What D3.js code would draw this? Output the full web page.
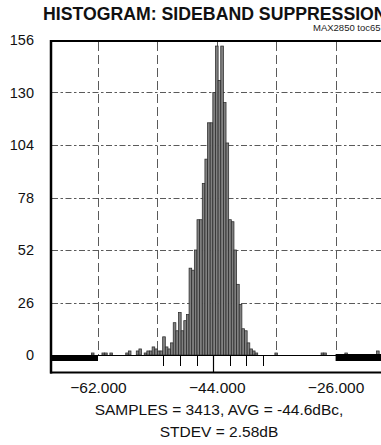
<!DOCTYPE html>
<html><head><meta charset="utf-8">
<script src="https://cdn.jsdelivr.net/npm/d3@7"></script>
<style>body{margin:0;background:#fff}svg{display:block;font-family:"Liberation Sans",Arial,sans-serif}</style>
</head><body><svg id="c" width="381" height="445"></svg>
<script>
// histogram bins (left edge, dBc) and counts
const binLeft = [-63.0,-61.4,-61.0,-60.2,-57.8,-57.4,-56.2,-55.8,-55.0,-54.6,-54.2,-53.8,-53.4,-53.0,-52.6,
  -52.2,-51.8,-51.4,-51.0,-50.6,-50.2,-49.8,-49.4,-49.0,-48.6,-48.2,-47.8,-47.4,-47.0,-46.6,-46.2,-45.8,-45.4,
  -45.0,-44.6,-44.2,-43.8,-43.4,-43.0,-42.6,-42.2,-41.8,-41.4,-41.0,-40.6,-40.2,-39.8,-39.4,-39.0,-38.6,-38.2,
  -35.2,-28.2,-27.8,-24.6,-19.8];
const counts = [1,1,1,1,1,2,2,3,1,2,2,4,3,2,2,
  9,4,3,6,16,12,21,12,17,20,43,42,52,67,67,85,97,115,
  115,130,153,136,153,125,105,67,66,52,35,25,13,12,6,3,2,1,
  1,1,1,1,2];
const binWidth = 0.4;
const yTicks = [0,26,52,78,104,130,156];
const xLabels = [-62,-44,-26];
const xGrid = [-62,-53,-44,-35,-26];
const avgValue = -44.6;
const sigmaTicks = [-52.1,-49.55,-47.0,-42.0,-39.5,-37.0];
const lowBand = [-69.15,-62];
const highBand = [-26,-18];
const title = "HISTOGRAM: SIDEBAND SUPPRESSION";
const tag = "MAX2850 toc65";
const footer = ["SAMPLES = 3413, AVG = -44.6dBc,","STDEV = 2.58dB"];

const svg = d3.select("#c");
const x = d3.scaleLinear().domain([-69.15,-18]).range([50.8,388.4]);
const y = d3.scaleLinear().domain([0,156]).range([355,40]);

// title
svg.append("text").attr("x",43).attr("y",19.5).attr("font-size",17.7).attr("font-weight","bold")
  .attr("fill","#111").text(title);
svg.append("text").attr("x",313).attr("y",31).attr("font-size",9.5).attr("fill","#222").text(tag);

// grid
const grid = svg.append("g").attr("stroke","#5a5a5a").attr("stroke-width",1).attr("fill","none");
grid.selectAll("line.h").data(yTicks.filter(d=>d>0&&d<156)).join("line")
  .attr("x1",52).attr("x2",381).attr("y1",d=>Math.round(y(d))+0.5).attr("y2",d=>Math.round(y(d))+0.5)
  .attr("stroke-dasharray","6,2.5,2.5,2.5");
grid.selectAll("line.v").data(xGrid).join("line")
  .attr("x1",d=>Math.round(x(d))+0.5).attr("x2",d=>Math.round(x(d))+0.5).attr("y1",42).attr("y2",355)
  .attr("stroke-dasharray","9,4");

// bars
svg.append("g").selectAll("rect").data(binLeft).join("rect")
  .attr("x",d=>x(d)).attr("width",d=>x(d+binWidth)-x(d))
  .attr("y",(d,i)=>y(counts[i])).attr("height",(d,i)=>y(0)-y(counts[i]))
  .attr("fill","#808080").attr("stroke","#2a2a2a").attr("stroke-width",0.75);

// baseline & bands
svg.append("line").attr("x1",51).attr("x2",381).attr("y1",355.5).attr("y2",355.5).attr("stroke","#000");
svg.append("rect").attr("x",x(lowBand[0])).attr("width",x(lowBand[1])-x(lowBand[0])).attr("y",355).attr("height",6).attr("fill","#000");
svg.append("rect").attr("x",x(highBand[0])).attr("width",x(highBand[1])-x(highBand[0])).attr("y",354).attr("height",7).attr("fill","#000");

// sigma ticks
svg.append("g").selectAll("line").data(sigmaTicks).join("line")
  .attr("x1",d=>Math.round(x(d))+0.5).attr("x2",d=>Math.round(x(d))+0.5).attr("y1",356).attr("y2",366)
  .attr("stroke","#000");
svg.append("line").attr("x1",Math.round(x(avgValue))+0.5).attr("x2",Math.round(x(avgValue))+0.5)
  .attr("y1",356).attr("y2",372).attr("stroke","#000").attr("stroke-width",1.2);

// frame
const fr = svg.append("g").attr("stroke","#000").attr("fill","none");
fr.append("line").attr("x1",51).attr("x2",51).attr("y1",40).attr("y2",373.5).attr("stroke-width",2.5);
fr.append("line").attr("x1",50).attr("x2",381).attr("y1",41).attr("y2",41).attr("stroke-width",2);
fr.append("line").attr("x1",50).attr("x2",381).attr("y1",372.5).attr("y2",372.5).attr("stroke-width",2);

// axes labels
const ya = svg.append("g").attr("transform","translate(51,0)")
  .call(d3.axisLeft(y).tickValues(yTicks).tickSize(0).tickPadding(17));
ya.select(".domain").remove();
ya.selectAll("text").attr("font-size",14.5).attr("fill","#111").attr("font-family","Liberation Sans, Arial, sans-serif");

const xa = svg.append("g").attr("transform","translate(0,372)")
  .call(d3.axisBottom(x).tickValues(xLabels).tickSize(0).tickPadding(10).tickFormat(d3.format(".3f")));
xa.select(".domain").remove();
xa.selectAll("text").attr("font-size",15.5).attr("fill","#111").attr("font-family","Liberation Sans, Arial, sans-serif");

svg.selectAll("text.f").data(footer).join("text").attr("class","f")
  .attr("x",219).attr("y",(d,i)=>415+i*22).attr("text-anchor","middle")
  .attr("font-size",15.5).attr("fill","#111").text(d=>d);
</script></body></html>
